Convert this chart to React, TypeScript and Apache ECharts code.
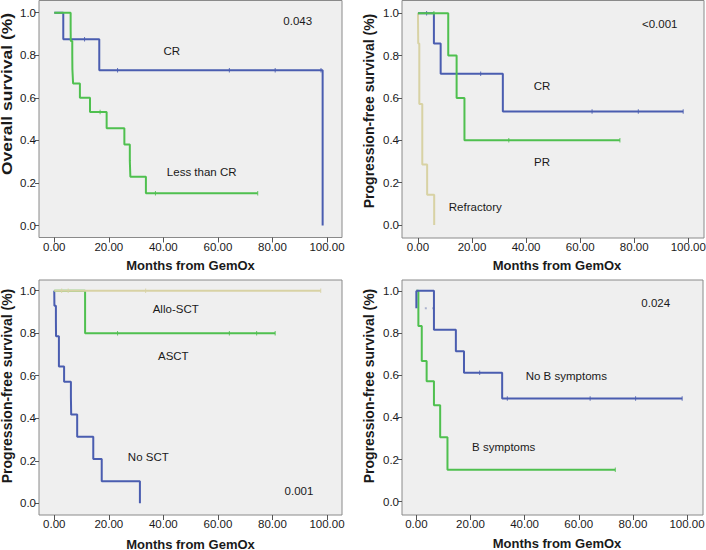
import React, { useEffect, useRef } from "react";
import * as echarts from "echarts";

// ---------- data ----------
const xTicks = [0, 20, 40, 60, 80, 100];
const yTicks = [0, 0.2, 0.4, 0.6, 0.8, 1.0];

// Panel 1: overall survival by response
const p1CrTime = [0, 3.3, 16.5, 98.4];
const p1CrSurv = [1, 0.875, 0.729, 0];
const p1CrCens = [11.1, 23.2, 64.2, 81.0, 97.8];
const p1LessTime = [0, 6.0, 6.05, 6.6, 6.65, 6.9, 9.4, 13.1, 19.2, 25.7, 27.7, 27.9, 33.6];
const p1LessSurv = [1, 0.933, 0.867, 0.8, 0.733, 0.667, 0.6, 0.533, 0.457, 0.381, 0.305, 0.229, 0.152];
const p1LessCens = [16.8, 37.1, 74.6];

// Panel 2: PFS by response
const p2CrTime = [0, 5.9, 8.4, 31.4];
const p2CrSurv = [1, 0.857, 0.714, 0.536];
const p2CrCens = [3.2, 23.2, 64.4, 81.5, 98.1];
const p2PrTime = [0, 11.2, 14.3, 17.2];
const p2PrSurv = [1, 0.8, 0.6, 0.4];
const p2PrCens = [5.9, 33.6, 74.7];
const p2RefTime = [0, 0.1, 0.5, 1.6, 3.4, 6.0];
const p2RefSurv = [1, 0.857, 0.571, 0.286, 0.143, 0];
const p2RefCens: number[] = [];

// Panel 3: PFS by transplant
const p3AlloTime = [0];
const p3AlloSurv = [1];
const p3AlloCens = [2.7, 5.1, 33.5, 97.7];
const p3AsctTime = [0, 11.3];
const p3AsctSurv = [1, 0.8];
const p3AsctCens = [23.2, 64.2, 74.2, 81.0];
const p3NoTime = [0, 0.05, 0.6, 0.65, 1.7, 3.6, 6.1, 6.2, 8.4, 14.3, 17.4, 31.4];
const p3NoSurv = [1, 0.929, 0.857, 0.786, 0.643, 0.571, 0.5, 0.417, 0.3125, 0.208, 0.104, 0];
const p3NoCens: number[] = [];

// Panel 4: PFS by B symptoms
const p4NoBTime = [0, 6.5, 14.6, 17.6, 31.7];
const p4NoBSurv = [1, 0.815, 0.713, 0.611, 0.489];
const p4NoBCens = [23.4, 33.6, 64.2, 81.0, 98.2];
const p4NoBBlipTime = [0, 0];
const p4NoBBlipSurv = [1, 0.917];
const p4NoBBlipCens = [3.5, 6.2];
const p4BTime = [0, 0.75, 2.0, 3.8, 6.5, 8.8, 11.5];
const p4BSurv = [1, 0.833, 0.667, 0.571, 0.457, 0.305, 0.152];
const p4BCens = [73.5];

// ---------- styling ----------
const BLUE = "#4a5db0";
const GREEN = "#4fc04f";
const TAN = "#d8d2a4";
const FONT = '"Liberation Sans", Arial, Helvetica, sans-serif';

function survAt(times: number[], surv: number[], t: number) {
  let s = surv[0];
  for (let i = 0; i < times.length; i++) if (times[i] <= t) s = surv[i];
  return s;
}

function lineData(times: number[], surv: number[], cens: number[]) {
  const d = times.map((t, i) => [t, surv[i]]);
  if (cens.length) {
    const mc = Math.max(...cens);
    if (mc > times[times.length - 1]) d.push([mc, surv[surv.length - 1]]);
  }
  return d;
}

function curve(idx: number, times: number[], surv: number[], cens: number[], color: string, z: number) {
  const out: any[] = [
    {
      type: "line",
      xAxisIndex: idx,
      yAxisIndex: idx,
      step: "end",
      showSymbol: false,
      symbol: "none",
      silent: true,
      z,
      lineStyle: { width: 2, color },
      data: lineData(times, surv, cens),
    },
  ];
  if (cens.length) {
    out.push({
      type: "scatter",
      xAxisIndex: idx,
      yAxisIndex: idx,
      symbol: "rect",
      symbolSize: [1, 4.5],
      silent: true,
      z: z + 1,
      itemStyle: { color, opacity: 0.85 },
      data: cens.map((t) => [t, survAt(times, surv, t)]),
    });
  }
  return out;
}

const grids = [
  { left: 39, top: 0.5, width: 303, height: 237 },
  { left: 402, top: 0.5, width: 302, height: 237.5 },
  { left: 39, top: 280, width: 303, height: 235 },
  { left: 402, top: 280, width: 301, height: 235 },
];
const xRanges = [
  [-5.6, 105.5],
  [-5.9, 105.8],
  [-5.6, 105.5],
  [-5.3, 105.9],
];
const yRanges = [
  [-0.056, 1.057],
  [-0.061, 1.06],
  [-0.055, 1.05],
  [-0.063, 1.051],
];

function txt(text: string, x: number, y: number, size: number, bold = false, extra: any = {}) {
  return {
    type: "text",
    x,
    y,
    silent: true,
    z: 100,
    ...extra,
    style: {
      text,
      fill: "#1a1a1a",
      font: `${bold ? "bold " : ""}${size}px ${FONT}`,
      align: "center",
      verticalAlign: "middle",
      textAlign: "center",
      textVerticalAlign: "middle",
    },
  };
}

export default function App() {
  const ref = useRef<HTMLDivElement>(null);
  useEffect(() => {
    if (!ref.current) return;
    const chart = echarts.init(ref.current, undefined, { renderer: "svg" });
    const option: any = {
      animation: false,
      backgroundColor: "#ffffff",
      grid: grids.map((g) => ({
        ...g,
        show: true,
        backgroundColor: "#efefef",
        borderColor: "#8a8a8a",
        borderWidth: 1,
        containLabel: false,
        outerBoundsMode: "none",
      })),
      xAxis: grids.map((_, i) => ({
        type: "value",
        gridIndex: i,
        min: xRanges[i][0],
        max: xRanges[i][1],
        axisLine: { show: false, onZero: false },
        splitLine: { show: false },
        axisTick: { show: true, length: 5, customValues: xTicks, lineStyle: { color: "#555", width: 1 } },
        axisLabel: {
          customValues: xTicks,
          formatter: (v: number) => v.toFixed(2),
          fontSize: 11.5,
          color: "#1a1a1a",
          fontFamily: FONT,
          margin: 3,
          showMinLabel: true,
          showMaxLabel: true,
        },
      })),
      yAxis: grids.map((_, i) => ({
        type: "value",
        gridIndex: i,
        min: yRanges[i][0],
        max: yRanges[i][1],
        axisLine: { show: false, onZero: false },
        splitLine: { show: false },
        axisTick: { show: true, length: 4, customValues: yTicks, lineStyle: { color: "#555", width: 1 } },
        axisLabel: {
          customValues: yTicks,
          formatter: (v: number) => v.toFixed(1),
          fontSize: 11.5,
          color: "#1a1a1a",
          fontFamily: FONT,
          margin: 3,
        },
      })),
      series: [
        ...curve(0, p1CrTime, p1CrSurv, p1CrCens, BLUE, 3),
        ...curve(0, p1LessTime, p1LessSurv, p1LessCens, GREEN, 5),
        ...curve(1, p2RefTime, p2RefSurv, p2RefCens, TAN, 3),
        ...curve(1, p2CrTime, p2CrSurv, p2CrCens, BLUE, 4),
        ...curve(1, p2PrTime, p2PrSurv, p2PrCens, GREEN, 6),
        ...curve(2, p3NoTime, p3NoSurv, p3NoCens, BLUE, 3),
        ...curve(2, p3AsctTime, p3AsctSurv, p3AsctCens, GREEN, 4),
        ...curve(2, p3AlloTime, p3AlloSurv, p3AlloCens, TAN, 6),
        ...curve(3, p4BTime, p4BSurv, p4BCens, GREEN, 3),
        {
          type: "line",
          xAxisIndex: 3,
          yAxisIndex: 3,
          showSymbol: false,
          symbol: "none",
          silent: true,
          z: 5,
          lineStyle: { width: 2, color: BLUE },
          data: p4NoBBlipTime.map((t, i) => [t, p4NoBBlipSurv[i]]),
        },
        {
          type: "scatter",
          xAxisIndex: 3,
          yAxisIndex: 3,
          symbol: "rect",
          symbolSize: [2, 2],
          silent: true,
          z: 5,
          itemStyle: { color: "#9aa2c6" },
          data: p4NoBBlipCens.map((t) => [t, p4NoBBlipSurv[1]]),
        },
        ...curve(3, p4NoBTime, p4NoBSurv, p4NoBCens, BLUE, 6),
      ],
      graphic: [
        // axis titles
        txt("Months from GemOx", 190.5, 265, 13, true),
        txt("Months from GemOx", 557, 265, 13, true),
        txt("Months from GemOx", 190.5, 544, 13, true),
        txt("Months from GemOx", 557, 543, 13, true),
        txt("Overall survival (%)", 7, 94, 14, true, { rotation: Math.PI / 2, scaleX: 1.25 }),
        txt("Progression-free survival (%)", 368.5, 111, 14, true, { rotation: Math.PI / 2 }),
        txt("Progression-free survival (%)", 7, 386, 14, true, { rotation: Math.PI / 2 }),
        txt("Progression-free survival (%)", 368.5, 386, 14, true, { rotation: Math.PI / 2 }),
        // annotations
        txt("0.043", 297.7, 20.7, 11.5),
        txt("CR", 171.7, 50.7, 11.5),
        txt("Less than CR", 201.7, 171.7, 11.5),
        txt("<0.001", 659.7, 24, 11.5),
        txt("CR", 542, 86, 11.5),
        txt("PR", 542, 161.7, 11.5),
        txt("Refractory", 475.3, 207.3, 11.5),
        txt("Allo-SCT", 175.7, 309.3, 11.5),
        txt("ASCT", 173.3, 355.7, 11.5),
        txt("No SCT", 148.3, 456.7, 11.5),
        txt("0.001", 299, 491, 11.5),
        txt("0.024", 655.7, 303.3, 11.5),
        txt("No B symptoms", 566.3, 375.7, 11.5),
        txt("B symptoms", 503.7, 447.3, 11.5),
      ],
    };
    chart.setOption(option);
    return () => chart.dispose();
  }, []);
  return (
    <div
      ref={ref}
      style={{ position: "fixed", left: 0, top: 0, width: 706, height: 550, background: "#fff" }}
    />
  );
}
